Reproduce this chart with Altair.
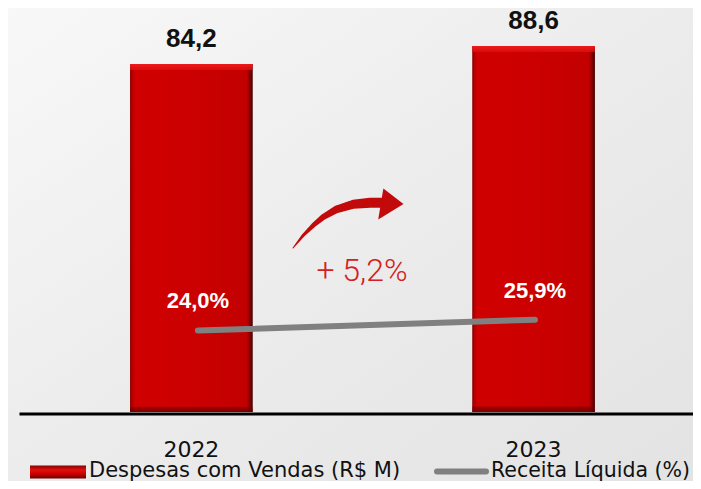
import altair as alt
import pandas as pd

# ---- data ----
years = ["2022", "2023"]
despesas = [84.2, 88.6]
despesas_labels = ["84,2", "88,6"]
receita = [24.0, 25.9]
receita_labels = ["24,0%", "25,9%"]
growth_label = "+ 5,2%"
legend_labels = ["Despesas com Vendas (R$ M)", "Receita Líquida (%)"]

# decorative curved arrow (plot-pixel path of the annotation)
arrow_x = [274, 284.3, 294.3, 304.3, 317.7, 334.3, 351, 364]
arrow_y = [240, 227.3, 217.3, 209, 201.3, 196.3, 194.7, 194.7]
arrow_w = [1, 3, 4.5, 6, 7.5, 9, 10, 10]

W, H = 674, 404
BOTTOM = 69

df = pd.DataFrame({
    "ano": years,
    "desp": despesas,
    "desp_lbl": despesas_labels,
    "rec": receita,
    "rec_lbl": receita_labels,
})
df_arrow = pd.DataFrame({"x": arrow_x, "y": arrow_y, "w": arrow_w,
                         "o": list(range(len(arrow_x)))})
one = pd.DataFrame({"k": [0]})

xscale = alt.Scale(domain=years, paddingInner=0.6414, paddingOuter=0.3055, align=0.531)

grad_h = alt.Gradient(
    gradient="linear", x1=0, x2=1, y1=0, y2=0,
    stops=[
        alt.GradientStop(color="#8a0000", offset=0),
        alt.GradientStop(color="#b80000", offset=0.02),
        alt.GradientStop(color="#d00000", offset=0.045),
        alt.GradientStop(color="#cc0000", offset=0.5),
        alt.GradientStop(color="#c20000", offset=0.95),
        alt.GradientStop(color="#7a0000", offset=0.98),
        alt.GradientStop(color="#4a0000", offset=1),
    ],
)
grad_v = alt.Gradient(
    gradient="linear", x1=0, x2=0, y1=0, y2=1,
    stops=[
        alt.GradientStop(color="rgba(240,30,30,0.9)", offset=0),
        alt.GradientStop(color="rgba(225,15,15,0.8)", offset=0.016),
        alt.GradientStop(color="rgba(225,15,15,0)", offset=0.018),
        alt.GradientStop(color="rgba(120,0,0,0)", offset=0.984),
        alt.GradientStop(color="rgba(120,0,0,0.55)", offset=0.986),
        alt.GradientStop(color="rgba(90,0,0,0.7)", offset=1),
    ],
)
grad_leg = alt.Gradient(
    gradient="linear", x1=0, x2=0, y1=0, y2=1,
    stops=[
        alt.GradientStop(color="#8a0000", offset=0),
        alt.GradientStop(color="#e01010", offset=0.35),
        alt.GradientStop(color="#cc0000", offset=0.65),
        alt.GradientStop(color="#6a0000", offset=1),
    ],
)
grad_bg = alt.Gradient(
    gradient="linear", x1=0, x2=1, y1=0, y2=1,
    stops=[
        alt.GradientStop(color="#f8f8f8", offset=0),
        alt.GradientStop(color="#ececec", offset=0.5),
        alt.GradientStop(color="#e3e3e3", offset=1),
    ],
)

bg = alt.Chart(one).mark_rect(fill=grad_bg).encode(
    x=alt.value(-11), x2=alt.value(W), y=alt.value(0), y2=alt.value(H + BOTTOM)
)

xenc = alt.X("ano:N", scale=xscale,
             axis=alt.Axis(labels=False, ticks=False, tickSize=0, title=None,
                           domainColor="#000000", domainWidth=3, offset=1.5,
                           grid=False, zindex=1))
yenc = alt.Y("desp:Q", scale=alt.Scale(domain=[0, H / 4.132], nice=False, zero=True),
             axis=None)

base = alt.Chart(df)
bars = base.mark_bar(fill=grad_h).encode(x=xenc, y=yenc)
bevel = base.mark_bar(fill=grad_v).encode(x=xenc, y=yenc)
bar_lbl = base.mark_text(dy=-17, baseline="alphabetic", fontSize=26, fontWeight="bold",
                         font="Liberation Sans", color="#111111").encode(
    x=xenc, y=yenc, text="desp_lbl:N")
year_lbl = base.mark_text(baseline="alphabetic", fontSize=22, font="DejaVu Sans",
                          color="#111111").encode(
    x=xenc, y=alt.value(449), text="ano:N")
bar_layer = alt.layer(bars, bevel, bar_lbl, year_lbl)

xl = alt.X("ano:N", scale=xscale, axis=None)
yl = alt.Y("rec:Q", scale=alt.Scale(domain=[9.66, 9.66 + H / 5.684], nice=False, zero=False),
           axis=None)
line = base.mark_line(color="#808080", strokeWidth=6, strokeCap="round").encode(x=xl, y=yl)
pct_lbl = base.mark_text(dy=-22, baseline="alphabetic", fontSize=22, fontWeight="bold",
                         font="Liberation Sans", color="#ffffff").encode(
    x=xl, y=yl, text="rec_lbl:N")
line_layer = alt.layer(line, pct_lbl)

px_x = alt.Scale(domain=[0, W], nice=False, zero=False)
px_y = alt.Scale(domain=[0, H], nice=False, zero=False, reverse=True)
trail = alt.Chart(df_arrow).mark_trail(color="#c20a0a").encode(
    x=alt.X("x:Q", scale=px_x, axis=None),
    y=alt.Y("y:Q", scale=px_y, axis=None),
    size=alt.Size("w:Q", scale=None, legend=None),
    order="o:Q",
)
head = alt.Chart(one).mark_point(
    shape="M -0.3 -1 L 1 0 L -0.63 1 Z", filled=True, size=961,
    color="#c20a0a", opacity=1, strokeWidth=0,
).encode(x=alt.value(369), y=alt.value(196))
arrow_layer = alt.layer(trail, head)

growth = alt.Chart(one).mark_text(
    align="center", baseline="alphabetic", fontSize=32, font="Roboto",
    fontWeight=300, color="#d42020",
).encode(x=alt.value(343), y=alt.value(273), text=alt.value(growth_label))

leg_rect = alt.Chart(one).mark_rect(fill=grad_leg).encode(
    x=alt.value(11), x2=alt.value(67), y=alt.value(457.5), y2=alt.value(470.5))
leg_line = alt.Chart(one).mark_rule(color="#808080", strokeWidth=6, strokeCap="round").encode(
    x=alt.value(418), x2=alt.value(467), y=alt.value(463.5))
leg_t1 = alt.Chart(one).mark_text(align="left", baseline="alphabetic", fontSize=21,
                                  font="DejaVu Sans", color="#111111").encode(
    x=alt.value(70), y=alt.value(469), text=alt.value(legend_labels[0]))
leg_t2 = alt.Chart(one).mark_text(align="left", baseline="alphabetic", fontSize=20.5,
                                  font="DejaVu Sans", color="#111111").encode(
    x=alt.value(472), y=alt.value(469), text=alt.value(legend_labels[1]))

chart = alt.layer(
    bg, bar_layer, line_layer, arrow_layer, growth, leg_rect, leg_line, leg_t1, leg_t2
).resolve_scale(x="independent", y="independent").properties(
    width=W, height=H,
    padding={"left": 11, "top": 0, "right": 0, "bottom": BOTTOM},
    autosize=alt.AutoSizeParams(type="none"),
    background="#eeeeee",
).configure_view(stroke=None)

chart.save("out.html", embed_options={"renderer": "svg", "actions": False})
